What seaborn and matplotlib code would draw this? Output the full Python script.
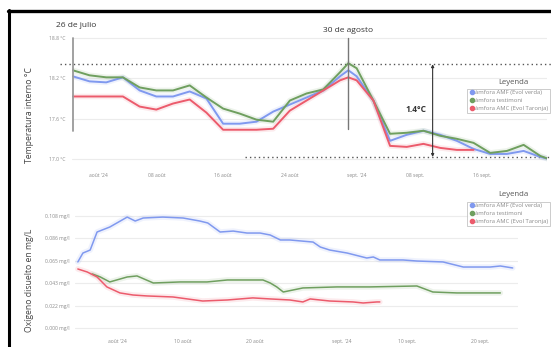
import pandas as pd
import numpy as np
import matplotlib
matplotlib.use("Agg")
import matplotlib.pyplot as plt
from matplotlib.lines import Line2D
import seaborn as sns

# ------------------------------------------
# Data
# ------------------------------------------

base = pd.Timestamp("2024-08-01")

series_names = ["àmfora AMF (Evol verda)", "àmfora testimoni", "àmfora AMC (Evol Taronja)"]
colors = {"àmfora AMF (Evol verda)": "#8099ef",
          "àmfora testimoni": "#6f9f5f",
          "àmfora AMC (Evol Taronja)": "#ec5b6c"}

# top panel: internal temperature, day offsets from 1 Aug
temp_days = [-3, -1, 1, 3, 5, 7, 9, 11, 13, 15, 17, 19, 21, 23, 25, 27, 29, 30,
             31, 33, 35, 37, 39, 41, 43, 45, 47, 49, 51, 53, 54]
temp_blue = [18.23, 18.155, 18.14, 18.215, 18.02, 17.93, 17.93, 18.005, 17.90, 17.525,
             17.525, 17.555, 17.705, 17.81, 17.915, 18.02, 18.23, 18.32, 18.23, 17.87,
             17.27, 17.36, 17.42, 17.36, 17.27, 17.15, 17.075, 17.075, 17.12, 17.03, 17.0]
temp_green = [18.32, 18.245, 18.215, 18.215, 18.065, 18.02, 18.02, 18.095, 17.915, 17.75,
              17.675, 17.585, 17.555, 17.87, 17.975, 18.035, 18.29, 18.425, 18.35, 17.87,
              17.375, 17.39, 17.42, 17.345, 17.30, 17.24, 17.09, 17.12, 17.21, 17.045, 17.0]
temp_red_days = temp_days[:26]
temp_red = [17.93, 17.93, 17.93, 17.93, 17.78, 17.735, 17.825, 17.885, 17.69, 17.435,
            17.435, 17.435, 17.45, 17.72, 17.87, 18.02, 18.17, 18.215, 18.17, 17.87,
            17.195, 17.18, 17.225, 17.165, 17.135, 17.135]

temp_ticks = [17.0, 17.6, 18.2, 18.8]
temp_tick_days = [0, 7, 15, 23, 31, 38, 46]
temp_tick_labels = ["août '24", "08 août", "16 août", "24 août", "sept. '24", "08 sept.", "16 sept."]

# bottom panel: dissolved oxygen
oxi_blue_days = [-5.4, -4.7, -3.7, -2.75, -1.0, 1.4, 2.5, 3.6, 6.3, 9.1, 11.4, 12.5, 14.2,
                 16.0, 17.9, 19.7, 21.1, 22.5, 23.8, 27.0, 28.0, 29.3, 31.7, 34.4, 35.3,
                 36.2, 39.4, 41.3, 44.9, 47.7, 51.4, 52.8, 54.5]
oxi_blue = [0.0637, 0.0723, 0.0752, 0.0926, 0.0974, 0.107, 0.1032, 0.1061, 0.107, 0.1061,
            0.1032, 0.1013, 0.0926, 0.0935, 0.0916, 0.0916, 0.0897, 0.0849, 0.0849, 0.0829,
            0.0781, 0.0752, 0.0723, 0.0675, 0.0685, 0.0656, 0.0656, 0.0646, 0.0637, 0.0588,
            0.0588, 0.0598, 0.0579]
oxi_green_days = [-3.4, -2.3, -1.0, 1.4, 2.75, 5.0, 8.7, 12.4, 15.2, 20.1, 21.1, 22.0,
                  22.9, 25.6, 30.3, 34.8, 41.3, 43.5, 46.8, 52.8]
oxi_green = [0.0521, 0.0492, 0.0444, 0.0492, 0.0502, 0.0434, 0.0444, 0.0444, 0.0463, 0.0463,
             0.0434, 0.0396, 0.0347, 0.0386, 0.0396, 0.0396, 0.0405, 0.0347, 0.0338, 0.0338]
oxi_red_days = [-5.4, -4.1, -2.75, -1.4, 0.4, 2.2, 4.1, 7.7, 11.8, 15.2, 18.7, 21.1, 23.8,
                25.6, 26.6, 29.3, 32.5, 33.9, 35.8, 36.2]
oxi_red = [0.0569, 0.054, 0.0492, 0.0396, 0.0338, 0.0318, 0.0309, 0.0299, 0.026, 0.027,
           0.029, 0.028, 0.027, 0.0251, 0.028, 0.026, 0.0251, 0.0241, 0.0251, 0.0251]

oxi_ticks = [0.0, 0.0216, 0.0432, 0.0648, 0.0864, 0.108]
oxi_tick_days = [0, 9, 19, 31, 40, 50]
oxi_tick_labels = ["août '24", "10 août", "20 août", "sept. '24", "10 sept.", "20 sept."]


def to_dates(days):
    return base + pd.to_timedelta(np.array(days, dtype=float), unit="D")


temp_df = pd.concat([
    pd.DataFrame({"fecha": to_dates(temp_days), "valor": temp_blue, "serie": series_names[0]}),
    pd.DataFrame({"fecha": to_dates(temp_days), "valor": temp_green, "serie": series_names[1]}),
    pd.DataFrame({"fecha": to_dates(temp_red_days), "valor": temp_red, "serie": series_names[2]}),
])
oxi_df = pd.concat([
    pd.DataFrame({"fecha": to_dates(oxi_blue_days), "valor": oxi_blue, "serie": series_names[0]}),
    pd.DataFrame({"fecha": to_dates(oxi_green_days), "valor": oxi_green, "serie": series_names[1]}),
    pd.DataFrame({"fecha": to_dates(oxi_red_days), "valor": oxi_red, "serie": series_names[2]}),
])

# ------------------------------------------
# Figure
# ------------------------------------------

sns.set_theme(style="white")
plt.rcParams["font.family"] = ["Open Sans", "DejaVu Sans"]

W, H = 551, 347
fig = plt.figure(figsize=(W / 100, H / 100), dpi=100)


def fbox(x0, y0, x1, y1):
    return [x0 / W, 1 - y1 / H, (x1 - x0) / W, (y1 - y0) / H]


ax1 = fig.add_axes(fbox(72, 31.3, 547, 165.7))
ax2 = fig.add_axes(fbox(75, 211.9, 518, 332.1))

grid_c = "#ececec"
tick_c = "#8a8a8a"

for ax, df in [(ax1, temp_df), (ax2, oxi_df)]:
    # soft halo under each line
    for name in series_names:
        sub = df[df["serie"] == name]
        ax.plot(sub["fecha"], sub["valor"], color=colors[name], lw=4, alpha=0.12,
                solid_capstyle="round", zorder=2)
    sns.lineplot(data=df, x="fecha", y="valor", hue="serie", palette=colors,
                 hue_order=series_names, lw=1.4 if ax is ax1 else 1.1, ax=ax,
                 legend=False, zorder=3, estimator=None, sort=False)
    for s in ax.spines.values():
        s.set_visible(False)
    ax.set_xlabel("")
    ax.set_ylabel("")
    ax.tick_params(length=0, labelsize=3.6, colors=tick_c)
    ax.grid(axis="y", color=grid_c, lw=0.8)
    ax.grid(axis="x", visible=False)

# top axes
ax1.set_ylim(16.9, 18.9)
ax1.set_xlim(to_dates([-3.1])[0], to_dates([53.8])[0])
ax1.set_yticks(temp_ticks)
ax1.set_yticklabels([f"{t:.1f} °C" for t in temp_ticks])
ax1.set_xticks(to_dates(temp_tick_days))
ax1.set_xticklabels(temp_tick_labels)
ax1.tick_params(axis="y", pad=5)
ax1.tick_params(axis="x", pad=5)

# annotations top
start = to_dates([-3])[0]
peak = to_dates([30])[0]
ax1.plot([start, start], [17.42, 18.8], color="#9a9a9a", lw=1.3, zorder=4)
ax1.plot([peak, peak], [17.45, 18.8], color="#777777", lw=1.0, zorder=4)
ax1.text(start - pd.Timedelta(days=2), 18.93, "26 de julio", fontsize=6, color="#333333",
         ha="left", va="bottom")
ax1.text(peak, 18.86, "30 de agosto", fontsize=6, color="#333333", ha="center", va="bottom")
ax1.plot([to_dates([-4.5])[0], to_dates([54.5])[0]], [18.41, 18.41], ls=(0, (1, 2.2)),
         color="#555555", lw=1.0, clip_on=False, zorder=1)
ax1.plot([to_dates([17.6])[0], to_dates([54.5])[0]], [17.03, 17.03], ls=(0, (1, 2.2)),
         color="#555555", lw=1.0, clip_on=False, zorder=1)
arrow_x = to_dates([40.1])[0]
ax1.annotate("", xy=(arrow_x, 18.41), xytext=(arrow_x, 17.03),
             arrowprops=dict(arrowstyle="<|-|>", color="#333333", lw=0.8,
                             mutation_scale=4, shrinkA=0, shrinkB=0))
ax1.text(to_dates([39.4])[0], 17.73, "1.4°C", fontsize=6, fontweight="bold", color="#333333",
         ha="right", va="center")

# bottom axes
ax2.set_ylim(-0.004, 0.112)
ax2.set_xlim(to_dates([-5.79])[0], to_dates([55.23])[0])
ax2.set_yticks(oxi_ticks)
ax2.set_yticklabels([f"{t:.3f} mg/l" for t in oxi_ticks])
ax2.set_xticks(to_dates(oxi_tick_days))
ax2.set_xticklabels(oxi_tick_labels)
ax2.tick_params(axis="y", pad=4)
ax2.tick_params(axis="x", pad=5)

# axis titles
fig.text(30 / W, 1 - 115 / H, "Temperatura interno °C", rotation=90, fontsize=6.2,
         color="#444444", ha="center", va="center")
fig.text(30 / W, 1 - 280 / H, "Oxígeno disuelto en mg/L", rotation=90, fontsize=6.2,
         color="#444444", ha="center", va="center")

# legends
handles = [Line2D([], [], marker="o", ls="", color=colors[n], markersize=3) for n in series_names]
for title_y, box_y in [(82, 88.5), (195, 201.5)]:
    fig.text(513 / W, 1 - title_y / H, "Leyenda", fontsize=5.6, color="#555555",
             ha="center", va="center")
    leg = fig.legend(handles=handles, labels=series_names, loc="upper left",
                     bbox_to_anchor=(467 / W, 1 - box_y / H), fontsize=4.2,
                     frameon=True, fancybox=False, borderpad=0.3, handletextpad=0.1,
                     labelspacing=0.45, handlelength=1.0, borderaxespad=0)
    leg.get_frame().set_edgecolor("#b5b5b5")
    leg.get_frame().set_linewidth(0.6)
    for t in leg.get_texts():
        t.set_color("#8a8a8a")

# screenshot border
fig.add_artist(Line2D([8 / W, 1], [1 - 11 / H, 1 - 11 / H], color="black", lw=2.4))
fig.add_artist(Line2D([9 / W, 9 / W], [0, 1 - 10 / H], color="black", lw=2.2))

fig.savefig("out.png", dpi=100)
